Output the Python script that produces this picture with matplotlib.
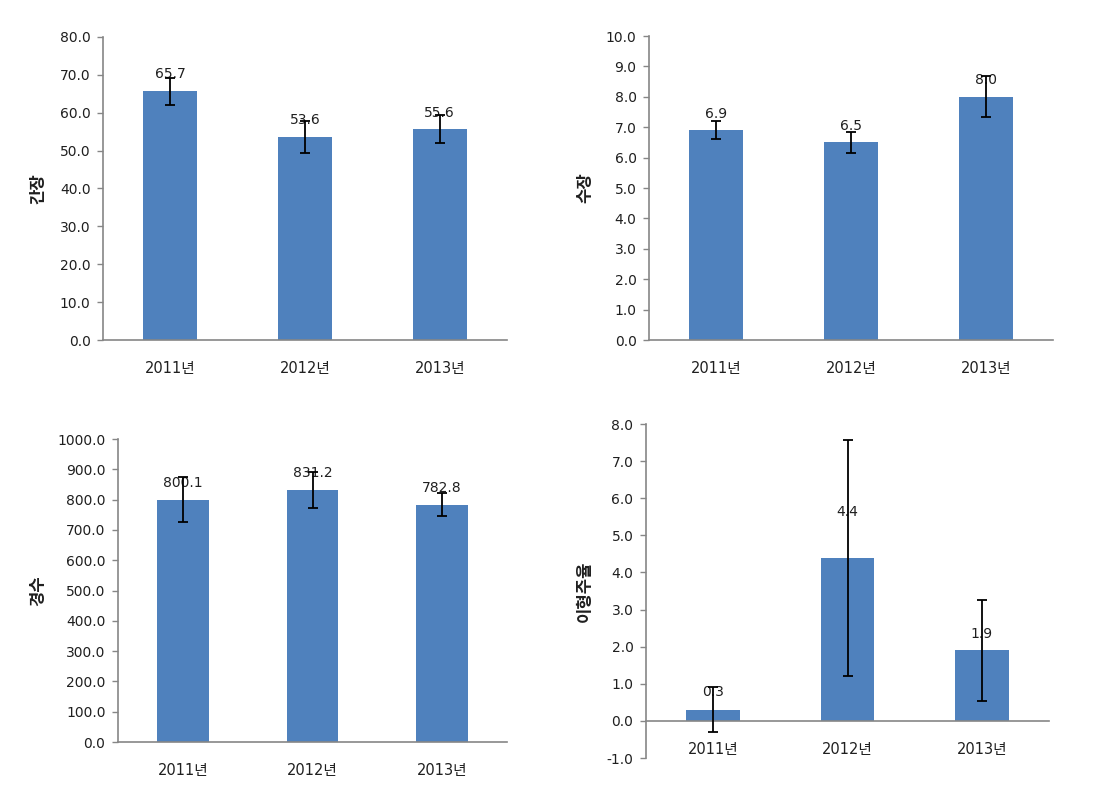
import matplotlib
matplotlib.use("Agg")
import matplotlib.pyplot as plt
from matplotlib.ticker import FormatStrFormatter, MultipleLocator

plt.rcParams['font.family'] = ['DejaVu Sans', 'Noto Sans CJK KR']

# ---- data ----
categories = ['2011년', '2012년', '2013년']

ganjang = [65.7, 53.6, 55.6]          # 간장
ganjang_err = [3.6, 4.1, 3.7]

sujang = [6.9, 6.5, 8.0]              # 수장
sujang_err = [0.30, 0.35, 0.68]

gyeongsu = [800.1, 831.2, 782.8]      # 경수
gyeongsu_err = [73.0, 60.0, 38.0]

ihyeongju = [0.3, 4.4, 1.9]           # 이형주율
ihyeongju_err = [0.6, 3.18, 1.37]

BAR = '#4F81BD'
SPINE = '#868686'
TXT = '#1f1f1f'

fig = plt.figure(figsize=(11.04, 8.05), dpi=100)

panels = [
    dict(rect=[103/1104, 1-340/805, 404/1104, 303/805], vals=ganjang, err=ganjang_err,
         ylim=(0, 80), step=10, ylabel='간장', ylx=38/1104, lab_off=[12, 12, 12]),
    dict(rect=[649/1104, 1-340/805, 404/1104, 304/805], vals=sujang, err=sujang_err,
         ylim=(0, 10), step=1, ylabel='수장', ylx=585/1104, lab_off=[12, 12, 12]),
    dict(rect=[118/1104, 1-742/805, 389/1104, 303/805], vals=gyeongsu, err=gyeongsu_err,
         ylim=(0, 1000), step=100, ylabel='경수', ylx=38/1104, lab_off=[12, 12, 12]),
    dict(rect=[646/1104, 1-758/805, 403/1104, 334/805], vals=ihyeongju, err=ihyeongju_err,
         ylim=(-1, 8), step=1, ylabel='이형주율', ylx=585/1104, lab_off=[13, 33, 12]),
]

for p in panels:
    ax = fig.add_axes(p['rect'])
    x = list(range(len(categories)))
    ax.bar(x, p['vals'], width=0.4, color=BAR, zorder=2)
    ax.errorbar(x, p['vals'], yerr=p['err'], fmt='none', ecolor='black',
                elinewidth=1.3, capsize=3.5, capthick=1.3, zorder=4)
    for xi, v, off in zip(x, p['vals'], p['lab_off']):
        ax.annotate(f'{v:.1f}', xy=(xi, v), xytext=(0, off), textcoords='offset points',
                    ha='center', va='center', fontsize=10, color=TXT, zorder=3)
    ax.set_xlim(-0.5, len(categories) - 0.5)
    ax.set_ylim(*p['ylim'])
    ax.yaxis.set_major_locator(MultipleLocator(p['step']))
    ax.yaxis.set_major_formatter(FormatStrFormatter('%.1f'))
    ax.set_xticks(x)
    ax.set_xticklabels(categories)
    for s in ['top', 'right']:
        ax.spines[s].set_visible(False)
    for s in ['left', 'bottom']:
        ax.spines[s].set_color(SPINE)
        ax.spines[s].set_linewidth(1.2)
    if p['ylim'][0] < 0:
        ax.spines['bottom'].set_position(('data', 0))
    ax.tick_params(axis='y', direction='out', length=4, width=1, color=SPINE,
                   labelsize=10, labelcolor=TXT, pad=5)
    ax.tick_params(axis='x', length=0, labelsize=10.5, labelcolor=TXT, pad=15)
    ax.set_facecolor('none')
    # y label
    fig.text(p['ylx'], p['rect'][1] + p['rect'][3] / 2, p['ylabel'], rotation=90,
             ha='center', va='center', fontsize=12, fontweight='bold', color=TXT)

fig.savefig('out.png', dpi=100, facecolor='white')
